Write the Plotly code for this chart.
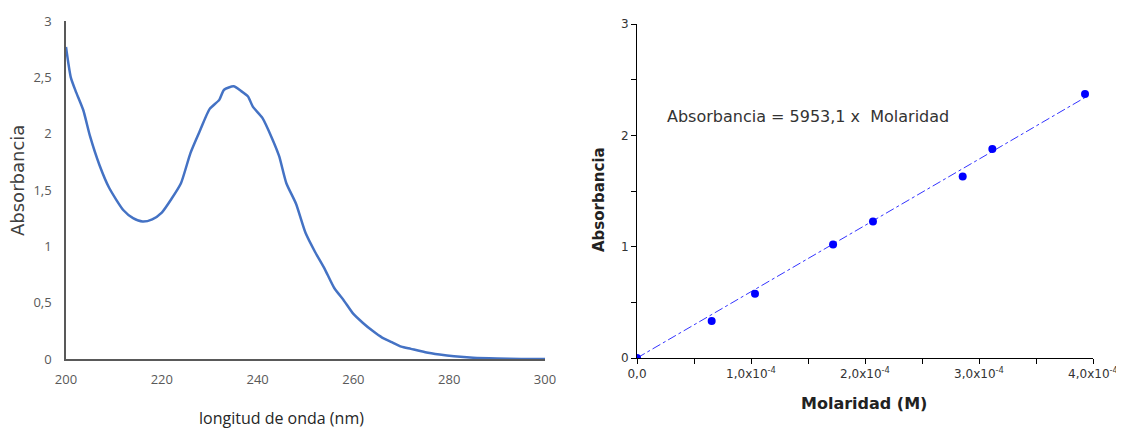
import plotly.graph_objects as go

# Left chart: UV spectrum
wavelength = [200, 201, 202, 203.6, 205, 207, 209, 212, 214, 216, 218, 220, 222, 224, 226, 228, 230, 232,
              233, 235, 236.5, 238, 239, 241, 243, 244.5, 246, 248, 250, 252, 254, 256, 258, 260, 262,
              264, 266, 268, 270, 272, 275, 278, 281, 285, 290, 295, 300]
absorb = [2.77, 2.50, 2.38, 2.21, 1.98, 1.72, 1.52, 1.32, 1.25, 1.22, 1.24, 1.30, 1.42, 1.56, 1.83, 2.03, 2.22, 2.30,
          2.39, 2.42, 2.38, 2.33, 2.24, 2.14, 1.96, 1.80, 1.56, 1.38, 1.12, 0.95, 0.80, 0.63, 0.52, 0.40, 0.32,
          0.25, 0.19, 0.15, 0.11, 0.09, 0.06, 0.04, 0.025, 0.012, 0.005, 0.001, 0.0]
left_yticks = [0, 0.5, 1, 1.5, 2, 2.5, 3]
left_yticklabels = ["0", "0,5", "1", "1,5", "2", "2,5", "3"]
left_xticks = [200, 220, 240, 260, 280, 300]

# Right chart: calibration
molaridad = [0.0, 0.655e-4, 1.035e-4, 1.72e-4, 2.07e-4, 2.857e-4, 3.117e-4, 3.93e-4]
abs_cal = [0.0, 0.332, 0.578, 1.02, 1.225, 1.63, 1.878, 2.372]
slope = 5953.1
fit_x = [0.0, 3.93e-4]
fit_y = [slope * v for v in fit_x]
right_xticks = [0, 1e-4, 2e-4, 3e-4, 4e-4]
right_xticklabels = ["0,0", "1,0x10<sup>-4</sup>", "2,0x10<sup>-4</sup>", "3,0x10<sup>-4</sup>", "4,0x10<sup>-4</sup>"]
right_yticks = [0, 1, 2, 3]

# page offset (body margin) and figure size
OFF = 8
W, H = 1124 - OFF, 430 - OFF


def px(x):
    return (x - OFF) / W


def py(y):
    return (430 - y) / H


fig = go.Figure()
fig.add_trace(go.Scatter(x=wavelength, y=absorb, mode="lines", line=dict(color="#4472C4", width=2.5, shape="spline", smoothing=0.6),
                         xaxis="x", yaxis="y", showlegend=False))
fig.add_trace(go.Scatter(x=fit_x, y=fit_y, mode="lines", line=dict(color="rgba(0,0,255,0.8)", width=1, dash="dashdot"),
                         xaxis="x2", yaxis="y2", showlegend=False))
fig.add_trace(go.Scatter(x=molaridad, y=abs_cal, mode="markers", marker=dict(color="#0000FF", size=8),
                         xaxis="x2", yaxis="y2", showlegend=False))

gray = "#595959"


def title_ann(text, x, y, size, family, color, angle=0):
    return dict(x=px(x), y=py(y), xref="paper", yref="paper", xanchor="center", yanchor="middle",
                text=text, showarrow=False, textangle=angle, font=dict(family=family, size=size, color=color))


fig.update_layout(
    width=W, height=H,
    margin=dict(l=0, r=0, t=0, b=0, autoexpand=False),
    paper_bgcolor="white", plot_bgcolor="white",
    xaxis=dict(domain=[px(66), px(545)], range=[200, 300], tickvals=left_xticks, showgrid=False, zeroline=False,
               showline=True, linecolor=gray, linewidth=1.5, ticks="", ticklabelstandoff=8, automargin=False,
               tickfont=dict(family="Open Sans", size=13, color=gray), anchor="y"),
    yaxis=dict(domain=[py(359), py(21)], range=[0, 3], tickvals=left_yticks, ticktext=left_yticklabels, showgrid=False,
               zeroline=False, showline=True, linecolor=gray, linewidth=1.5, ticks="", ticklabelstandoff=10, automargin=False,
               tickfont=dict(family="Open Sans", size=13, color=gray), anchor="x"),
    xaxis2=dict(domain=[px(637), px(1093)], range=[0, 4e-4], tickvals=right_xticks, ticktext=right_xticklabels,
                showgrid=False, zeroline=False, showline=True, linecolor="black", linewidth=1, automargin=False,
                ticks="outside", ticklen=5, tickcolor="black",
                minor=dict(tickvals=[0.5e-4, 1.5e-4, 2.5e-4, 3.5e-4], ticks="outside", ticklen=5, tickcolor="black"),
                tickfont=dict(family="DejaVu Sans", size=12, color="#333333"), anchor="y2"),
    yaxis2=dict(domain=[py(358), py(24)], range=[0, 3], tickvals=right_yticks, showgrid=False, zeroline=False,
                showline=True, linecolor="black", linewidth=1, ticks="outside", ticklen=5, tickcolor="black", automargin=False,
                minor=dict(tickvals=[0.5, 1.5, 2.5], ticks="outside", ticklen=5, tickcolor="black"),
                tickfont=dict(family="DejaVu Sans", size=12, color="#333333"), anchor="x2"),
    annotations=[
        title_ann("longitud de onda (nm)", 281, 418, 16, "Open Sans", "#262626"),
        title_ann("Absorbancia", 18, 181, 18, "DejaVu Sans", "#404040", -90),
        title_ann("<b>Molaridad (M)</b>", 864, 403, 16, "DejaVu Sans", "#222222"),
        title_ann("<b>Absorbancia</b>", 599, 200, 15, "DejaVu Sans", "#222222", -90),
        dict(x=px(665), y=py(117), xref="paper", yref="paper", xanchor="left", yanchor="middle",
             text="Absorbancia = 5953,1 x  Molaridad", showarrow=False,
             font=dict(family="DejaVu Sans", size=16, color="#333333")),
    ],
)

fig.write_html("out.html")
